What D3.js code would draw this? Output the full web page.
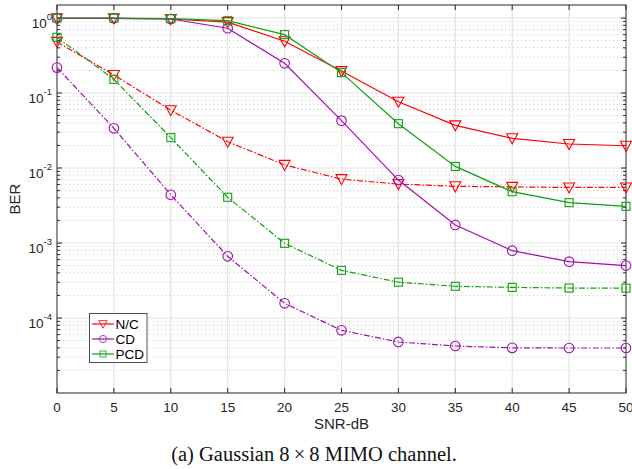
<!DOCTYPE html>
<html><head><meta charset="utf-8">
<script src="https://cdn.jsdelivr.net/npm/d3@7"></script>
<style>body{margin:0;background:#fff}svg{display:block}</style>
</head><body>
<svg id="c" width="632" height="469"></svg>
<script>
const snr = [0,5,10,15,20,25,30,35,40,45,50];
const ncSolid  = [0.99,0.99,0.97,0.88,0.49,0.196,0.0766,0.037,0.0249,0.0209,0.0198];
const ncDash   = [0.48,0.174,0.059,0.0224,0.011,0.0071,0.0061,0.0057,0.0056,0.0055,0.0055];
const cdSolid  = [0.99,0.99,0.97,0.73,0.249,0.0428,0.0069,0.00174,0.00079,0.000564,0.0005];
const cdDash   = [0.218,0.0338,0.0044,0.000664,0.000157,6.85e-5,4.79e-5,4.23e-5,4.0e-5,3.98e-5,3.98e-5];
const pcdSolid = [1.0,1.0,0.98,0.92,0.6,0.187,0.039,0.0105,0.00483,0.00345,0.00308];
const pcdDash  = [0.553,0.152,0.0254,0.00407,0.00099,0.000432,0.0003,0.000265,0.000256,0.000251,0.00025];
const xTicks = [0,5,10,15,20,25,30,35,40,45,50];
const yDecades = [-4,-3,-2,-1,0];
const legendLabels = ["N/C","CD","PCD"];

const colors = {nc:"#ff0000", cd:"#a010b0", pcd:"#10a010"};
const L=57, R=626, T=5, B=393;
const svg = d3.select("#c");
const x = d3.scaleLinear().domain([0,50]).range([L,R]);
const y = d3.scaleLog().domain([1e-5, Math.pow(10,13/75)]).range([B,T]);

// grid
const g = svg.append("g");
const minorVals = [];
for (let d=-5; d<=0; d++) for (let m=2; m<=9; m++) { const v=m*Math.pow(10,d); if (v<=y.domain()[1]) minorVals.push(v); }
g.selectAll(".minor").data(minorVals).enter().append("line")
  .attr("x1",L).attr("x2",R).attr("y1",d=>y(d)).attr("y2",d=>y(d))
  .attr("stroke","#b8b8b8").attr("stroke-width",0.8).attr("stroke-dasharray","1,3");
g.selectAll(".majy").data(yDecades).enter().append("line")
  .attr("x1",L).attr("x2",R).attr("y1",d=>y(Math.pow(10,d))).attr("y2",d=>y(Math.pow(10,d)))
  .attr("stroke","#e3e3e3").attr("stroke-width",1.2);
g.selectAll(".majx").data(xTicks.slice(1,-1)).enter().append("line")
  .attr("y1",T).attr("y2",B).attr("x1",d=>x(d)).attr("x2",d=>x(d))
  .attr("stroke","#e3e3e3").attr("stroke-width",1.2);

// ticks (inward)
const axc = "#262626";
const tk = svg.append("g").attr("stroke",axc).attr("stroke-width",1);
xTicks.forEach(v=>{
  tk.append("line").attr("x1",x(v)).attr("x2",x(v)).attr("y1",B).attr("y2",B-5);
  tk.append("line").attr("x1",x(v)).attr("x2",x(v)).attr("y1",T).attr("y2",T+5);
});
yDecades.forEach(d=>{
  const yy=y(Math.pow(10,d));
  tk.append("line").attr("x1",L).attr("x2",L+5).attr("y1",yy).attr("y2",yy);
  tk.append("line").attr("x1",R).attr("x2",R-5).attr("y1",yy).attr("y2",yy);
});
minorVals.forEach(v=>{
  const yy=y(v);
  tk.append("line").attr("x1",L).attr("x2",L+3).attr("y1",yy).attr("y2",yy);
  tk.append("line").attr("x1",R).attr("x2",R-3).attr("y1",yy).attr("y2",yy);
});
svg.append("rect").attr("x",L).attr("y",T).attr("width",R-L).attr("height",B-T)
  .attr("fill","none").attr("stroke",axc).attr("stroke-width",1);

// tick labels
const font = "Liberation Sans, Arial, Helvetica, sans-serif";
svg.append("g").selectAll("text").data(xTicks).enter().append("text")
  .attr("x",d=>x(d)).attr("y",411.5).attr("text-anchor","middle")
  .attr("font-family",font).attr("font-size",13.5).attr("fill",axc).text(d=>d);
const yl = svg.append("g");
yDecades.forEach(d=>{
  const t = yl.append("text").attr("x",52).attr("y",y(Math.pow(10,d))+9.7)
    .attr("text-anchor","end").attr("font-family",font).attr("font-size",13.5).attr("fill",axc);
  t.append("tspan").text("10");
  t.append("tspan").attr("dy",-7.5).attr("font-size",9.5).text(String(d));
});
svg.append("text").attr("x",(L+R)/2).attr("y",429).attr("text-anchor","middle")
  .attr("font-family",font).attr("font-size",15).attr("fill",axc).text("SNR-dB");
svg.append("text").attr("transform",`translate(19.5,${(T+B)/2}) rotate(-90)`).attr("text-anchor","middle")
  .attr("font-family",font).attr("font-size",15).attr("fill",axc).text("BER");
svg.append("text").attr("x",314).attr("y",461).attr("text-anchor","middle")
  .attr("font-family","Liberation Serif, Times New Roman, serif").attr("font-size",20.5).attr("fill","#111")
  .text("(a) Gaussian 8\u2009\u00d7\u20098 MIMO channel.");

// series
const series = [
  {v:ncSolid, c:colors.nc, m:"tri", dash:null},
  {v:ncDash, c:colors.nc, m:"tri", dash:"6,2,1.5,2"},
  {v:cdSolid, c:colors.cd, m:"circ", dash:null},
  {v:cdDash, c:colors.cd, m:"circ", dash:"6,2,1.5,2"},
  {v:pcdSolid, c:colors.pcd, m:"sq", dash:null},
  {v:pcdDash, c:colors.pcd, m:"sq", dash:"6,2,1.5,2"},
];
const line = d3.line().x((d,i)=>x(snr[i])).y(d=>y(d));
const pl = svg.append("g");
function marker(gr, type, cx, cy, c){
  if(type==="tri") gr.append("path").attr("d",`M${cx-5.5},${cy-4.5}L${cx+5.5},${cy-4.5}L${cx},${cy+5.5}Z`)
    .attr("fill","none").attr("stroke",c).attr("stroke-width",1.1);
  else if(type==="circ") gr.append("circle").attr("cx",cx).attr("cy",cy).attr("r",4.8)
    .attr("fill","none").attr("stroke",c).attr("stroke-width",1.1);
  else gr.append("rect").attr("x",cx-4).attr("y",cy-4).attr("width",8).attr("height",8)
    .attr("fill","none").attr("stroke",c).attr("stroke-width",1.1);
}
series.forEach(s=>{
  pl.append("path").datum(s.v).attr("d",line).attr("fill","none").attr("stroke",s.c)
    .attr("stroke-width",1.2).attr("stroke-dasharray",s.dash);
  s.v.forEach((v,i)=>marker(pl,s.m,x(snr[i]),y(v),s.c));
});

// legend
const lg = svg.append("g");
lg.append("rect").attr("x",89.5).attr("y",313.5).attr("width",57.5).attr("height",49)
  .attr("fill","#fff").attr("stroke",axc).attr("stroke-width",0.8);
const legC=[colors.nc,colors.cd,colors.pcd], legM=["tri","circ","sq"];
legendLabels.forEach((lab,i)=>{
  const yy=324+i*15;
  lg.append("line").attr("x1",92).attr("x2",114).attr("y1",yy).attr("y2",yy).attr("stroke",legC[i]).attr("stroke-width",1.2);
  const gm = lg.append("g").attr("transform",`translate(103,${yy}) scale(0.75) translate(-103,${-yy})`);
  marker(gm,legM[i],103,yy,legC[i]);
  lg.append("text").attr("x",115.5).attr("y",yy+5).attr("font-family",font).attr("font-size",13.5).attr("fill","#000").text(lab);
});
</script>
</body></html>
